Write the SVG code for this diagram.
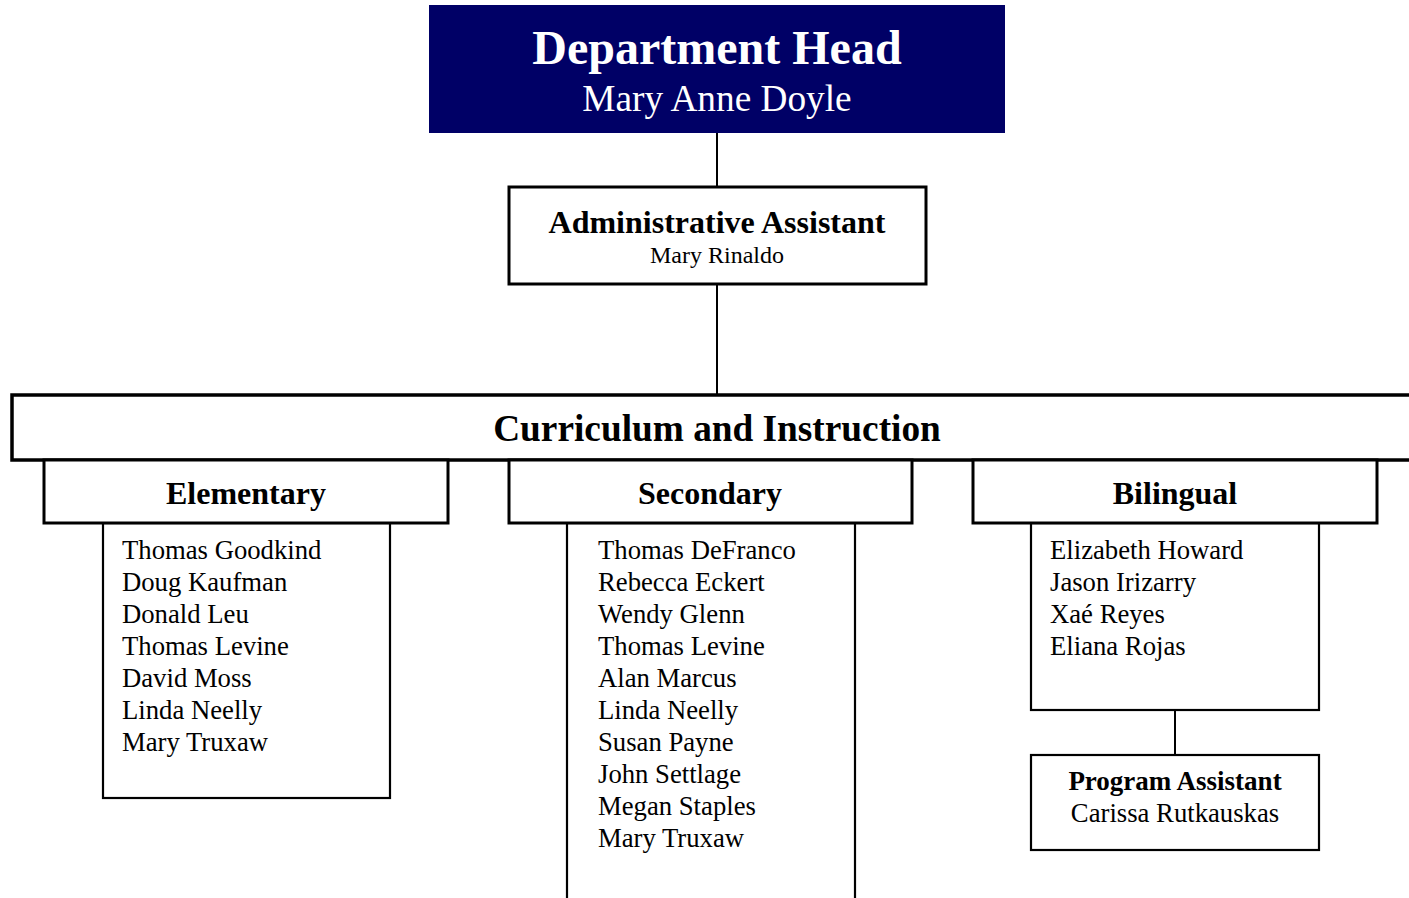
<svg xmlns="http://www.w3.org/2000/svg" width="1409" height="898" viewBox="0 0 1409 898">
<style>
text{font-family:"Liberation Serif","Times New Roman",serif;fill:#000}
.b{font-weight:bold}
.box{fill:#fff;stroke:#000;stroke-width:3}
.list{fill:#fff;stroke:#000;stroke-width:2.2}
.c{text-anchor:middle}
.conn line{stroke:#000;stroke-width:2}
.name{font-size:26.7px}
</style>
<rect width="1409" height="898" fill="#fff"/>
<g class="conn">
<line x1="717" y1="133" x2="717" y2="187"/>
<line x1="717" y1="284" x2="717" y2="395"/>
<line x1="1175" y1="710" x2="1175" y2="755"/>
</g>
<g id="head">
<rect x="429" y="5" width="576" height="128" fill="#000066"/>
<text x="717" y="64" class="b c" font-size="48" style="fill:#fff">Department Head</text>
<text x="717" y="111" class="c" font-size="37.3" style="fill:#fff">Mary Anne Doyle</text>
</g>
<g id="admin">
<rect x="509" y="187" width="417" height="97" class="box"/>
<text x="717" y="233" class="b c" font-size="32">Administrative Assistant</text>
<text x="717" y="263" class="c" font-size="24">Mary Rinaldo</text>
</g>
<g id="ci">
<rect x="12" y="395" width="1410" height="65" class="box" style="stroke-width:3.5"/>
<text x="717" y="441" class="b c" font-size="37.3">Curriculum and Instruction</text>
</g>
<g id="elementary">
<rect x="103" y="523" width="287" height="275" class="list"/>
<rect x="44" y="460" width="404" height="63" class="box"/>
<text x="246" y="504" class="b c" font-size="32">Elementary</text>
<text class="name" x="122" y="559">Thomas Goodkind</text>
<text class="name" x="122" y="591">Doug Kaufman</text>
<text class="name" x="122" y="623">Donald Leu</text>
<text class="name" x="122" y="655">Thomas Levine</text>
<text class="name" x="122" y="687">David Moss</text>
<text class="name" x="122" y="719">Linda Neelly</text>
<text class="name" x="122" y="751">Mary Truxaw</text>
</g>
<g id="secondary">
<rect x="567" y="523" width="288" height="400" class="list"/>
<rect x="509" y="460" width="403" height="63" class="box"/>
<text x="710" y="504" class="b c" font-size="32">Secondary</text>
<text class="name" x="598" y="559">Thomas DeFranco</text>
<text class="name" x="598" y="591">Rebecca Eckert</text>
<text class="name" x="598" y="623">Wendy Glenn</text>
<text class="name" x="598" y="655">Thomas Levine</text>
<text class="name" x="598" y="687">Alan Marcus</text>
<text class="name" x="598" y="719">Linda Neelly</text>
<text class="name" x="598" y="751">Susan Payne</text>
<text class="name" x="598" y="783">John Settlage</text>
<text class="name" x="598" y="815">Megan Staples</text>
<text class="name" x="598" y="847">Mary Truxaw</text>
</g>
<g id="bilingual">
<rect x="1031" y="523" width="288" height="187" class="list"/>
<rect x="973" y="460" width="404" height="63" class="box"/>
<text x="1175" y="504" class="b c" font-size="32">Bilingual</text>
<text class="name" x="1050" y="559">Elizabeth Howard</text>
<text class="name" x="1050" y="591">Jason Irizarry</text>
<text class="name" x="1050" y="623">Xaé Reyes</text>
<text class="name" x="1050" y="655">Eliana Rojas</text>
</g>
<g id="program">
<rect x="1031" y="755" width="288" height="95" class="list"/>
<text x="1175" y="790" class="b c" font-size="27">Program Assistant</text>
<text x="1175" y="822" class="c" font-size="26.7">Carissa Rutkauskas</text>
</g>
</svg>
